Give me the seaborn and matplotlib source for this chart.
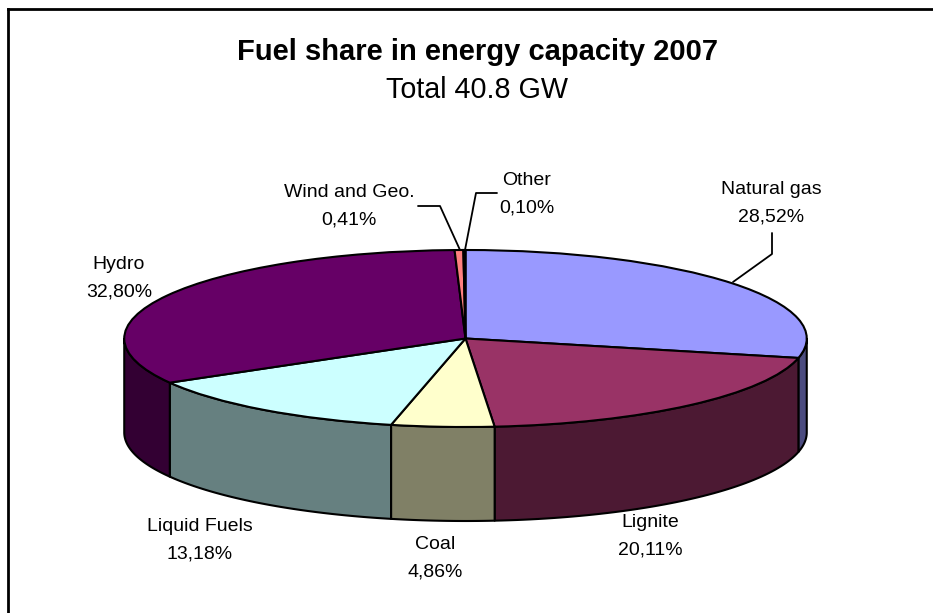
# Fuel share pie, drawn flat and squashed, with side walls added to look 3D
import matplotlib
matplotlib.use("Agg")
import matplotlib.pyplot as plt
import numpy as np
import seaborn as sns

fuels = ["Natural gas", "Lignite", "Coal", "Liquid Fuels", "Hydro", "Wind and Geo.", "Other"]
shares = [28.52, 20.11, 4.86, 13.18, 32.80, 0.41, 0.10]
top_colors = ["#9999FF", "#993366", "#FFFFCC", "#CCFFFF", "#660066", "#FF8080", "#0066CC"]
wall_colors = ["#4C4C80", "#4C1933", "#808066", "#668080", "#330033", "#804040", "#003366"]
label_x = [771.5, 650, 435, 200, 119, 349, 527]
label_y = [203, 536, 558, 540, 278, 206, 194]

W, H = 933, 613
cx, cy, rx, ry = 465.5, 338.5, 341.25, 88.5
depth = 94 / ry

sns.set_theme(style="white")
plt.rcParams["font.family"] = ["Liberation Sans", "DejaVu Sans"]

fig = plt.figure(figsize=(W / 100, H / 100), dpi=100)
ax = fig.add_axes([8 / W, 0, (W - 8) / W, (H - 9) / H])


def px(x, y):
    return (x - cx) / rx, (cy - y) / ry


# walls first, only the part of each slice on the front half shows
edges = 90 - 360 * np.cumsum([0] + shares) / sum(shares)
for i in range(len(shares)):
    start = min(edges[i], 0)
    end = max(edges[i + 1], -180)
    if start <= end:
        continue
    t = np.radians(np.linspace(start, end, 60))
    xs = np.concatenate([np.cos(t), np.cos(t[::-1])])
    ys = np.concatenate([np.sin(t), np.sin(t[::-1]) - depth])
    ax.fill(xs, ys, facecolor=wall_colors[i], edgecolor="black", linewidth=1.5, joinstyle="round")

ax.pie(shares, colors=top_colors, startangle=90, counterclock=False,
       wedgeprops={"edgecolor": "black", "linewidth": 1.5})

ax.set_aspect("auto")
ax.set_xlim(px(8, 0)[0], px(W, 0)[0])
ax.set_ylim(px(0, H)[1], px(0, 9)[1])

# leader lines
leaders = [
    ([733, 772, 772], [282, 254, 233]),
    ([460, 440, 418], [250, 206, 206]),
    ([465, 476, 497], [250, 193, 193]),
]
for lx, ly in leaders:
    pts = [px(a, b) for a, b in zip(lx, ly)]
    ax.plot([p[0] for p in pts], [p[1] for p in pts], color="black", linewidth=1.3)

for name, val, x, y in zip(fuels, shares, label_x, label_y):
    txt = name + "\n" + f"{val:.2f}%".replace(".", ",")
    ax.text(*px(x, y), txt, ha="center", va="center", fontsize=14, color="black", linespacing=1.8)

ax.text(*px(477.5, 51.5), "Fuel share in energy capacity 2007", ha="center", va="center",
        fontsize=21, fontweight="bold", color="black")
ax.text(*px(477.5, 90), "Total 40.8 GW", ha="center", va="center", fontsize=20.7, color="black")

# only the left and top of the chart frame are inside the picture
ax.set_frame_on(True)
ax.set_axis_on()
ax.set_xticks([])
ax.set_yticks([])
sns.despine(ax=ax, top=False, left=False, right=True, bottom=True)
for side in ["left", "top"]:
    ax.spines[side].set_color("black")
    ax.spines[side].set_linewidth(2)

fig.savefig("out.png", dpi=100, facecolor="white")
